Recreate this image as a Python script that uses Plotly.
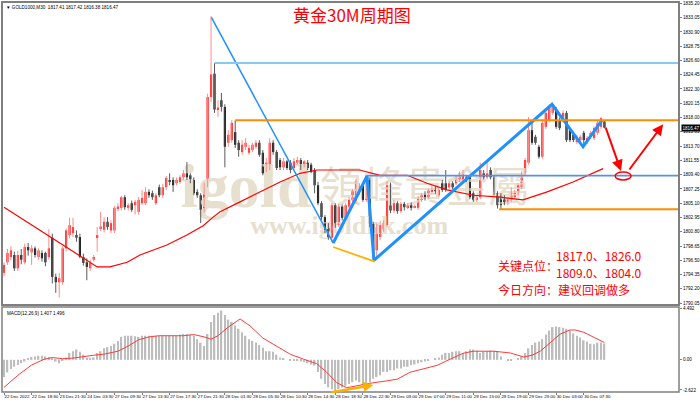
import plotly.graph_objects as go

# ---------------- data ----------------
opens = [
    1794.6,1796.2,1797.0,1797.3,1795.3,1797.3,1796.2,1798.5,1797.7,1798.3,
    1797.0,1797.6,1797.6,1797.0,1799.9,1794.0,1793.2,1793.2,1798.3,1800.3,
    1800.6,1800.3,1800.0,1797.0,1796.2,1795.3,1796.6,1800.0,1801.3,1801.1,
    1802.3,1801.0,1801.0,1804.3,1804.4,1806.0,1804.4,1805.1,1804.8,1803.8,
    1805.1,1805.1,1806.8,1806.6,1805.1,1807.5,1806.3,1807.5,1808.6,1808.6,
    1808.1,1808.3,1809.0,1809.6,1809.3,1808.6,1806.8,1806.3,1804.1,1807.9,
    1821.1,1824.6,1819.2,1820.6,1819.6,1814.2,1814.6,1815.8,1814.2,1812.8,
    1813.6,1812.7,1813.1,1813.6,1814.2,1812.7,1810.1,1810.4,1814.2,1812.8,
    1811.6,1810.5,1811.4,1811.2,1810.4,1811.2,1811.6,1810.9,1811.2,1810.9,
    1810.1,1807.8,1805.1,1803.0,1801.8,1799.9,1804.8,1801.8,1804.6,1802.9,
    1804.6,1805.6,1805.3,1806.8,1807.7,1805.6,1808.6,1802.0,1798.0,1800.0,
    1801.2,1801.8,1807.8,1804.0,1805.1,1803.9,1805.0,1804.5,1804.8,1804.5,
    1804.4,1805.6,1806.6,1806.0,1806.8,1807.4,1806.3,1808.1,1808.1,1807.5,
    1808.1,1808.1,1808.6,1808.6,1809.0,1809.0,1806.6,1805.6,1806.0,1809.6,
    1809.0,1810.1,1809.0,1806.6,1806.3,1806.0,1805.1,1805.6,1806.0,1806.6,
    1807.5,1809.6,1811.2,1816.1,1815.1,1813.6,1812.1,1816.6,1817.6,1818.7,
    1819.1,1817.6,1817.6,1818.7,1816.1,1815.4,1814.3,1814.6,1815.7,1814.3,
    1815.1,1814.9,1815.7,1816.6,1817.41]
highs = [
    1796.2,1798.2,1798.6,1797.8,1797.9,1798.2,1799.0,1799.1,1798.8,1798.6,
    1798.3,1798.0,1797.8,1801.2,1800.5,1794.5,1794.6,1798.6,1801.3,1802.9,
    1802.9,1801.0,1800.5,1797.5,1796.8,1796.6,1797.3,1801.5,1803.8,1803.0,
    1803.0,1802.5,1804.7,1805.1,1806.2,1806.3,1805.1,1805.5,1805.6,1806.0,
    1807.1,1807.5,1807.2,1807.0,1806.6,1807.9,1808.0,1809.2,1809.6,1809.0,
    1809.0,1809.3,1810.1,1811.3,1809.6,1809.0,1807.2,1806.6,1808.2,1821.6,
    1833.3,1826.2,1820.6,1821.7,1820.0,1816.1,1817.6,1817.6,1814.6,1814.6,
    1814.9,1813.9,1814.2,1814.6,1814.6,1813.1,1811.9,1814.9,1814.6,1813.1,
    1811.9,1811.9,1811.6,1811.6,1811.9,1812.1,1811.9,1811.6,1811.6,1811.2,
    1810.4,1808.3,1805.4,1803.3,1802.1,1805.1,1805.1,1805.0,1804.9,1805.1,
    1806.0,1807.2,1808.7,1808.1,1808.0,1809.3,1809.0,1802.3,1802.0,1802.4,
    1802.5,1808.4,1808.2,1805.6,1805.4,1805.3,1805.3,1805.1,1805.2,1804.9,
    1806.2,1806.6,1806.9,1807.3,1807.8,1807.7,1807.4,1808.6,1810.1,1808.4,
    1808.4,1809.3,1809.9,1810.1,1809.3,1809.3,1806.9,1806.3,1811.2,1810.1,
    1811.6,1810.5,1809.3,1806.9,1806.6,1806.3,1806.1,1807.5,1807.1,1808.1,
    1809.9,1811.9,1818.1,1817.6,1815.4,1813.9,1817.6,1819.1,1820.0,1820.0,
    1819.6,1818.0,1819.1,1819.0,1816.4,1815.7,1815.4,1815.4,1816.0,1815.2,
    1816.0,1816.7,1817.5,1818.1,1817.42]
lows = [
    1794.1,1795.8,1796.5,1794.9,1794.9,1795.9,1795.9,1797.2,1795.8,1796.9,
    1796.6,1796.3,1795.6,1796.6,1793.0,1791.6,1790.9,1792.8,1797.8,1799.8,
    1800.0,1799.3,1796.8,1795.7,1793.5,1794.9,1796.3,1797.8,1800.9,1800.7,
    1801.1,1800.6,1800.6,1803.9,1804.0,1804.1,1804.0,1803.8,1803.4,1803.4,
    1804.8,1804.8,1805.9,1805.6,1804.8,1806.0,1805.9,1807.1,1807.8,1806.8,
    1807.8,1808.0,1808.6,1808.6,1808.1,1806.3,1805.9,1802.1,1803.7,1807.5,
    1820.3,1818.7,1818.1,1818.9,1810.5,1813.6,1814.2,1813.4,1812.1,1812.4,
    1813.1,1812.4,1812.8,1813.3,1812.1,1809.3,1809.8,1810.1,1812.4,1810.1,
    1810.1,1810.1,1810.1,1809.6,1810.1,1810.9,1810.1,1810.5,1810.1,1809.6,
    1806.6,1804.8,1802.6,1800.6,1799.6,1799.3,1801.4,1801.5,1802.5,1802.6,
    1804.3,1805.3,1805.0,1806.3,1805.3,1805.3,1801.5,1796.6,1797.0,1799.5,
    1800.8,1801.5,1803.6,1803.6,1803.5,1803.6,1804.0,1804.2,1804.0,1804.3,
    1804.1,1805.3,1805.5,1805.7,1806.5,1806.5,1806.0,1806.8,1806.8,1807.2,
    1807.2,1807.8,1808.3,1808.3,1808.3,1805.7,1805.3,1805.3,1805.7,1808.7,
    1808.7,1808.7,1806.3,1804.3,1804.2,1804.8,1804.8,1805.3,1805.7,1806.3,
    1807.2,1809.3,1810.9,1813.9,1813.9,1811.8,1811.8,1816.3,1817.3,1818.4,
    1816.3,1816.1,1817.3,1814.3,1814.3,1814.3,1814.0,1814.3,1813.6,1814.0,
    1814.8,1814.6,1815.4,1816.3,1816.38]
closes = [
    1795.8,1797.6,1798.0,1795.3,1797.3,1796.6,1798.5,1798.0,1798.3,1797.3,
    1798.0,1796.8,1796.2,1798.3,1794.0,1793.2,1793.8,1798.3,1801.0,1801.8,
    1801.5,1799.9,1797.0,1796.1,1795.5,1796.1,1797.0,1800.3,1801.6,1802.3,
    1801.5,1802.1,1804.4,1804.6,1806.0,1804.5,1804.8,1804.1,1805.3,1805.6,
    1805.9,1806.8,1806.3,1806.0,1806.3,1806.3,1807.5,1808.9,1808.3,1807.8,
    1808.6,1809.0,1809.6,1809.0,1808.6,1806.6,1806.3,1804.1,1807.9,1821.1,
    1824.5,1819.2,1819.5,1819.6,1813.6,1815.4,1817.2,1813.9,1813.1,1813.9,
    1814.2,1813.4,1813.9,1814.2,1812.4,1809.6,1811.2,1814.2,1812.8,1810.4,
    1810.5,1811.4,1810.4,1810.1,1811.4,1811.6,1810.5,1811.4,1810.4,1809.8,
    1807.8,1805.1,1803.0,1801.1,1799.9,1804.8,1801.8,1804.6,1802.9,1804.8,
    1805.6,1806.9,1808.4,1807.7,1805.6,1808.6,1802.0,1797.5,1801.5,1801.8,
    1802.1,1807.8,1804.0,1805.1,1803.9,1805.0,1804.5,1804.8,1804.4,1804.6,
    1805.9,1806.3,1805.8,1807.0,1807.4,1806.9,1807.1,1807.1,1807.1,1808.1,
    1807.5,1809.0,1809.6,1809.8,1808.6,1806.0,1805.6,1806.0,1810.1,1809.0,
    1809.6,1809.0,1806.6,1804.8,1804.8,1805.1,1805.8,1806.6,1806.8,1807.8,
    1809.6,1811.6,1816.1,1814.2,1814.2,1812.1,1817.2,1818.7,1819.6,1819.6,
    1816.6,1816.4,1818.7,1814.6,1814.6,1814.6,1815.1,1815.1,1814.6,1814.9,
    1815.7,1816.4,1817.2,1817.9,1816.47]

# moving average (red line on price), sampled points (bar index, price)
ma_x = [0, 27, 30.7, 35.7, 39.4, 47.2, 53, 57.7, 60.6, 62.6, 68.4, 74.2, 80, 85.8,
        90.7, 97.4, 103, 109, 116.8, 122.6, 128.4, 136, 143.8, 150.4, 157.4, 164.9, 173.6]
ma_y = [1804.5, 1795.5, 1795.5, 1796.2, 1797.3, 1798.8, 1800.3, 1801.7, 1803.0, 1803.8,
        1805.3, 1806.8, 1808.3, 1809.6, 1810.1, 1810.1, 1810.1, 1809.3, 1809.3, 1808.1,
        1807.1, 1806.3, 1806.0, 1805.6, 1806.8, 1808.3, 1810.3]

# MACD histogram (one value per bar)
macd_hist = [
    -1.5,-1.1,-0.8,-0.6,-0.45,-0.3,-0.15,0.1,0.25,0.3,
    0.35,0.35,0.3,0.25,0.1,-0.15,-0.3,-0.1,0.2,0.6,
    0.75,0.9,0.7,0.45,0.1,0.1,0.2,0.6,0.75,1.0,
    1.1,1.2,1.4,1.65,2.0,2.1,2.1,2.1,2.05,2.0,
    2.1,2.1,2.1,2.1,2.1,2.1,2.1,2.1,2.1,2.1,
    2.1,2.2,2.25,2.25,2.2,2.1,1.8,1.5,1.2,2.25,
    3.3,3.9,4.1,4.3,3.9,3.5,3.3,3.0,2.7,2.4,
    2.1,1.8,1.65,1.5,1.3,1.05,0.75,0.75,0.7,0.45,
    0.2,0.1,0.0,-0.1,-0.1,-0.05,-0.15,-0.2,-0.3,-0.4,
    -0.5,-1.05,-1.65,-2.1,-2.4,-2.55,-2.7,-2.55,-2.4,-2.25,
    -2.1,-1.95,-1.8,-1.95,-2.1,-2.25,-1.95,-1.65,-1.5,-1.35,
    -1.05,-1.05,-0.9,-0.9,-0.75,-0.75,-0.6,-0.6,-0.45,-0.4,
    -0.3,-0.2,-0.15,-0.1,0.0,0.1,0.2,0.45,0.6,0.6,
    0.7,0.75,0.75,0.6,0.75,0.9,0.9,0.8,0.6,0.7,
    0.75,0.8,0.8,0.75,0.3,0.0,-0.1,-0.1,0.0,0.1,
    0.3,0.6,1.0,1.3,1.5,1.6,1.8,2.2,2.55,2.85,
    2.9,2.85,2.8,2.7,2.55,2.3,2.1,1.95,1.7,1.6,
    1.4,1.35,1.5,1.5,1.41]
signal_x = [0, 4, 8, 11.6, 14, 17, 20, 23, 26, 29, 33, 36, 39, 42, 45, 52, 55, 58, 60, 62,
            65, 68.4, 71.3, 75, 79, 83, 86.8, 90.6, 93.5, 96.4, 99.3, 102, 106, 111, 114,
            117.7, 121.5, 125.5, 129.3, 133, 136, 141.9, 146.7, 150.6, 153, 155.4, 158.3,
            161.2, 164, 165.5, 168, 170.8, 174]
signal_y = [-2.4, -1.35, -0.45, 0.05, 0.2, 0.1, 0.15, 0.3, 0.4, 0.5, 0.75, 1.2, 1.75, 2.0,
            2.1, 2.1, 2.2, 2.0, 1.8, 2.1, 2.85, 3.56, 2.96, 1.9, 1.17, 0.48, 0.06, -0.33,
            -1.08, -1.98, -2.43, -2.28, -2.04, -1.83, -1.68, -1.08, -0.78, -0.48, 0.06,
            0.57, 0.75, 0.75, 0.6, 0.25, 0.4, 0.75, 1.5, 2.25, 2.6, 2.6, 2.4, 1.95, 1.5]

# hand-drawn objects
zig_x = [60.1, 95.4, 105.2, 107.2, 158.8, 167.8, 173.3]
zig_y = [1833.1, 1799.1, 1809.2, 1796.5, 1820.0, 1813.6, 1817.6]
levels = [(61.0, 1826.2, '#86CBEF', 2), (67.0, 1817.6, '#FF8C00', 2),
          (105.2, 1809.25, '#5A8FE6', 1.6), (143.5, 1804.2, '#FF8C00', 2)]
low_div_x = [95.4, 107.5]
low_div_y = [1798.5, 1796.3]
macd_div = (94.5, -2.85, 107.0, -2.19)

price_tick_labels = ['1790.05','1792.20','1794.35','1796.50','1798.65','1800.80','1802.95',
                     '1805.10','1807.25','1809.40','1811.55','1813.70','1815.85','1818.00',
                     '1820.15','1822.30','1824.45','1826.60','1828.75','1830.90','1833.05','1835.20']
time_labels = ['22 Dec 2022','22 Dec 18:30','23 Dec 21:30','24 Dec 03:30','27 Dec 09:30',
               '27 Dec 13:30','27 Dec 17:30','27 Dec 21:30','28 Dec 01:30','28 Dec 05:30',
               '28 Dec 10:30','28 Dec 14:30','28 Dec 18:30','28 Dec 22:30','29 Dec 03:00',
               '29 Dec 07:00','29 Dec 11:00','29 Dec 15:00','29 Dec 19:00','29 Dec 23:00',
               '30 Dec 03:00','30 Dec 07:30']
time_tick_idx = [0, 8, 16, 24, 32, 40, 48, 56, 64, 72, 80, 88, 96, 104, 112, 120, 128,
                 136, 144, 152, 160, 168]

# ---------------- figure ----------------
N = len(closes)
idx = list(range(N))
up = [c >= o for o, c in zip(opens, closes)]
XMAX = 195.6
CJK = "Noto Sans CJK SC"
TINY = dict(family="Liberation Sans", size=4.6, color="#000000")

fig = go.Figure()

# watermark (drawn first, beneath everything)
wm_col = "#E7E0CF"
fig.add_trace(go.Scatter(x=[70.1], y=[1806.9], mode="text", text=["<b>igold</b>"],
                         textfont=dict(family="Liberation Serif", size=62, color=wm_col),
                         hoverinfo="skip", showlegend=False))
fig.add_trace(go.Scatter(x=[122.0], y=[1806.8], mode="text", text=["領峰貴金屬"],
                         textfont=dict(family="Noto Sans CJK TC", size=42, color=wm_col),
                         hoverinfo="skip", showlegend=False))
fig.add_trace(go.Scatter(x=[100.0], y=[1801.5], mode="text", text=["<b>www.igoldhk.com</b>"],
                         textfont=dict(family="Liberation Serif", size=26, color=wm_col),
                         hoverinfo="skip", showlegend=False))

# wicks
for flag, col in ((True, "#FF8A8A"), (False, "#5A5A5A")):
    xs, ys = [], []
    for i in idx:
        if up[i] == flag:
            xs += [i, i, None]
            ys += [lows[i], highs[i], None]
    fig.add_trace(go.Scatter(x=xs, y=ys, mode="lines", line=dict(color=col, width=1),
                             hoverinfo="skip", showlegend=False))

# bodies
fig.add_trace(go.Bar(x=idx,
                     y=[max(abs(c - o), 0.14) for o, c in zip(opens, closes)],
                     base=[min(o, c) for o, c in zip(opens, closes)],
                     width=0.62,
                     marker=dict(color=["#FF0000" if u else "#000000" for u in up], line=dict(width=0)),
                     hoverinfo="skip", showlegend=False))

# moving average
fig.add_trace(go.Scatter(x=ma_x, y=ma_y, mode="lines", line=dict(color="#FF0000", width=1.2),
                         hoverinfo="skip", showlegend=False))

# zigzag
fig.add_trace(go.Scatter(x=zig_x[:2], y=zig_y[:2], mode="lines",
                         line=dict(color="#1E90FF", width=1.5), hoverinfo="skip", showlegend=False))
fig.add_trace(go.Scatter(x=zig_x[1:], y=zig_y[1:], mode="lines",
                         line=dict(color="#1E90FF", width=3), hoverinfo="skip", showlegend=False))
fig.add_trace(go.Scatter(x=low_div_x, y=low_div_y, mode="lines",
                         line=dict(color="#FFB000", width=1.8), hoverinfo="skip", showlegend=False))

# MACD
fig.add_trace(go.Bar(x=idx, y=macd_hist, yaxis="y2", width=0.45,
                     marker=dict(color="#BDBDBD", line=dict(width=0)),
                     hoverinfo="skip", showlegend=False))
fig.add_trace(go.Scatter(x=signal_x, y=signal_y, yaxis="y2", mode="lines",
                         line=dict(color="#FF3B3B", width=1), hoverinfo="skip", showlegend=False))

shapes = []
for x0, y0, col, w in levels:
    shapes.append(dict(type="line", xref="x", yref="y", x0=x0, x1=XMAX, y0=y0, y1=y0,
                       line=dict(color=col, width=w)))
shapes.append(dict(type="circle", xref="x", yref="y", x0=177.1, x1=181.7, y0=1808.6, y1=1809.8,
                   line=dict(color="#FF0000", width=1.5)))
# panel frames
P_BOT = 0.2231
M_TOP = 0.2179
shapes.append(dict(type="rect", xref="paper", yref="paper", x0=0, x1=1, y0=P_BOT, y1=1,
                   line=dict(color="#7F7F7F", width=2)))
shapes.append(dict(type="rect", xref="paper", yref="paper", x0=0, x1=1, y0=0, y1=M_TOP,
                   line=dict(color="#7F7F7F", width=1.5)))

ann = []
ann.append(dict(x=178.8, y=1809.95, ax=174.2, ay=1816.7, xref="x", yref="y", axref="x", ayref="y",
                showarrow=True, arrowhead=2, arrowsize=1.1, arrowwidth=2, arrowcolor="#FF0000", text=""))
ann.append(dict(x=191.0, y=1817.0, ax=180.9, ay=1809.95, xref="x", yref="y", axref="x", ayref="y",
                showarrow=True, arrowhead=2, arrowsize=1.1, arrowwidth=2, arrowcolor="#FF0000", text=""))
ann.append(dict(x=macd_div[2], y=macd_div[3], ax=macd_div[0], ay=macd_div[1], xref="x", yref="y2",
                axref="x", ayref="y2", showarrow=True, arrowhead=2, arrowsize=0.8, arrowwidth=2.5,
                arrowcolor="#FFB000", text=""))
ann.append(dict(x=0.517, y=0.969, xref="paper", yref="paper", text="黄金30M周期图", showarrow=False,
                font=dict(family=CJK, size=17, color="#FF0000"), xanchor="center", yanchor="middle"))
red = "#FF0000"
ann.append(dict(x=0.729, y=0.3256, xref="paper", yref="paper", text="关键点位：", showarrow=False,
                font=dict(family=CJK, size=12, color=red), xanchor="left", yanchor="middle"))
ann.append(dict(x=0.816, y=0.349, xref="paper", yref="paper", text="1817.0、1826.0", showarrow=False,
                font=dict(family=CJK, size=12, color=red), xanchor="left", yanchor="middle"))
ann.append(dict(x=0.816, y=0.306, xref="paper", yref="paper", text="1809.0、1804.0", showarrow=False,
                font=dict(family=CJK, size=12, color=red), xanchor="left", yanchor="middle"))
ann.append(dict(x=0.729, y=0.2640, xref="paper", yref="paper", text="今日方向：建议回调做多", showarrow=False,
                font=dict(family=CJK, size=12, color=red), xanchor="left", yanchor="middle"))
ann.append(dict(x=0.003, y=0.997, xref="paper", yref="paper",
                text="▼ GOLD1000,M30  1817.41 1817.42 1816.38 1816.47", showarrow=False,
                font=TINY, xanchor="left", yanchor="top"))
ann.append(dict(x=0.004, y=M_TOP - 0.004, xref="paper", yref="paper", text="MACD(12,26,9) 1.407 1.496",
                showarrow=False, font=TINY, xanchor="left", yanchor="top"))
ann.append(dict(x=1, y=closes[-1], xref="paper", yref="y", text=f"{closes[-1]:.2f}", showarrow=False,
                font=dict(family="Liberation Sans", size=4.6, color="#FFFFFF"), bgcolor="#000000",
                xanchor="left", yanchor="middle", xshift=2, borderpad=0.5))

fig.update_layout(
    width=700, height=403, margin=dict(l=2, r=21, t=2, b=11, autoexpand=False),
    paper_bgcolor="#FFFFFF", plot_bgcolor="#FFFFFF", barmode="overlay",
    showlegend=False, shapes=shapes, annotations=ann,
    xaxis=dict(range=[-0.58, XMAX], anchor="y2", showgrid=False, zeroline=False, showline=False,
               tickvals=time_tick_idx, ticktext=time_labels, ticks="outside", ticklen=2,
               tickcolor="#7F7F7F", tickfont=dict(family="Liberation Sans", size=4.4, color="#000"),
               ticklabelposition="outside right", tickangle=0, automargin=False,
               fixedrange=True),
    yaxis=dict(domain=[P_BOT, 1], range=[1789.77, 1835.4], side="right", anchor="x",
               showgrid=False, zeroline=False, showline=False, automargin=False,
               tickvals=[float(t) for t in price_tick_labels], ticktext=price_tick_labels,
               ticks="outside", ticklen=2, tickcolor="#7F7F7F", tickfont=TINY),
    yaxis2=dict(domain=[0, M_TOP], range=[-2.8, 4.6], side="right", anchor="x",
                showgrid=False, zeroline=False, showline=False, automargin=False,
                tickvals=[4.492, 0.0, -2.622], ticktext=["4.492", "0.00", "-2.622"],
                ticks="outside", ticklen=2, tickcolor="#7F7F7F", tickfont=TINY),
)

assert len(opens) == len(highs) == len(lows) == len(closes) == len(macd_hist) == 175

fig.write_html("out.html")
